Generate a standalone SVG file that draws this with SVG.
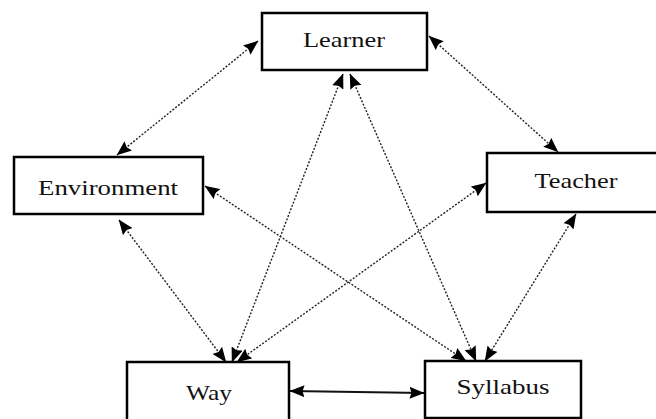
<svg xmlns="http://www.w3.org/2000/svg" width="656" height="419" viewBox="0 0 656 419">
<defs>
<style>
.box{fill:#fff;stroke:#000;stroke-width:2.5}
.lbl{font-family:"Liberation Serif","Times New Roman",serif;font-size:22px;fill:#111;text-anchor:middle}
.dot{fill:none;stroke:#222;stroke-width:1.4;stroke-dasharray:2 1.6}
.sol{fill:none;stroke:#111;stroke-width:1.8}
</style>
<marker id="ah" viewBox="0 0 15 12" refX="14.5" refY="6" markerWidth="15" markerHeight="12" markerUnits="userSpaceOnUse" orient="auto-start-reverse">
<path d="M0,0 L15,6 L0,12 L2,6 Z" fill="#000"/>
</marker>
</defs>
<rect x="0" y="0" width="656" height="419" fill="#fff"/>
<g id="connectors">
<line class="dot" x1="258" y1="41" x2="117" y2="155" marker-start="url(#ah)" marker-end="url(#ah)"/>
<line class="dot" x1="429" y1="36" x2="558" y2="152" marker-start="url(#ah)" marker-end="url(#ah)"/>
<line class="dot" x1="119" y1="220" x2="226" y2="362" marker-start="url(#ah)" marker-end="url(#ah)"/>
<line class="dot" x1="205" y1="186" x2="466" y2="361" marker-start="url(#ah)" marker-end="url(#ah)"/>
<line class="dot" x1="343" y1="74" x2="232" y2="362" marker-start="url(#ah)" marker-end="url(#ah)"/>
<line class="dot" x1="350" y1="74" x2="476" y2="361" marker-start="url(#ah)" marker-end="url(#ah)"/>
<line class="dot" x1="486" y1="183" x2="237" y2="362" marker-start="url(#ah)" marker-end="url(#ah)"/>
<line class="dot" x1="576" y1="214" x2="485" y2="361" marker-start="url(#ah)" marker-end="url(#ah)"/>
<line class="sol" x1="290" y1="391" x2="424" y2="393" marker-start="url(#ah)" marker-end="url(#ah)"/>
</g>
<g id="learner">
<rect class="box" x="262" y="13" width="165" height="57"/>
<text class="lbl" x="344" y="47" textLength="82" lengthAdjust="spacingAndGlyphs">Learner</text>
</g>
<g id="environment">
<rect class="box" x="14" y="157" width="189" height="57"/>
<text class="lbl" x="108" y="195" textLength="140" lengthAdjust="spacingAndGlyphs">Environment</text>
</g>
<g id="teacher">
<rect class="box" x="487" y="153" width="175" height="59"/>
<text class="lbl" x="576" y="188" textLength="83" lengthAdjust="spacingAndGlyphs">Teacher</text>
</g>
<g id="way">
<rect class="box" x="127" y="362" width="162" height="70"/>
<text class="lbl" x="209" y="400" textLength="46" lengthAdjust="spacingAndGlyphs">Way</text>
</g>
<g id="syllabus">
<rect class="box" x="425" y="361" width="156" height="57"/>
<text class="lbl" x="503" y="394" textLength="93" lengthAdjust="spacingAndGlyphs">Syllabus</text>
</g>
</svg>
